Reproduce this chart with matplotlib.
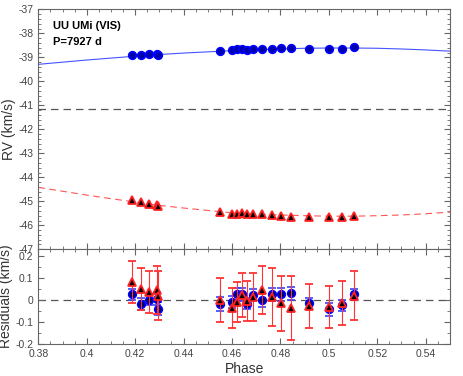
import matplotlib

matplotlib.use("Agg")
import matplotlib.pyplot as plt
from matplotlib.ticker import MultipleLocator, FuncFormatter

plt.rcParams["font.family"] = ["Liberation Sans", "DejaVu Sans"]

# observed phases (19 spectra)
phase = [0.4185, 0.4225, 0.4258, 0.4292, 0.4296, 0.4552, 0.4601, 0.4620,
         0.4640, 0.4660, 0.4685, 0.4722, 0.4765, 0.4802, 0.4843, 0.4920,
         0.5002, 0.5056, 0.5105]
rv_a = [-38.90, -38.92, -38.88, -38.85, -38.89, -38.74, -38.70, -38.67,
        -38.65, -38.70, -38.64, -38.65, -38.63, -38.61, -38.60, -38.63,
        -38.65, -38.64, -38.58]
rv_b = [-44.96, -45.04, -45.11, -45.15, -45.19, -45.46, -45.52, -45.52,
        -45.50, -45.53, -45.53, -45.52, -45.58, -45.61, -45.64, -45.64,
        -45.65, -45.64, -45.60]
res_a = [0.027, -0.018, 0.0, 0.005, -0.04, -0.018, -0.008, 0.026, 0.026,
         -0.018, 0.023, 0.0, 0.026, 0.026, 0.03, -0.015, -0.042, -0.023, 0.026]
err_a = [0.025, 0.028, 0.025, 0.03, 0.03, 0.03, 0.028, 0.03, 0.03, 0.025,
         0.028, 0.03, 0.03, 0.03, 0.03, 0.025, 0.03, 0.025, 0.025]
res_b = [0.08, 0.05, 0.035, 0.045, 0.02, 0.0, -0.035, -0.008, 0.023, -0.006,
         0.013, 0.045, 0.013, -0.015, -0.035, -0.027, -0.03, -0.015, 0.02]
err_b = [0.095, 0.095, 0.095, 0.11, 0.11, 0.1, 0.09, 0.09, 0.1, 0.09, 0.108,
         0.11, 0.131, 0.125, 0.145, 0.1, 0.095, 0.1, 0.113]

# orbital model curves (sampled from the figure)
model_phase = [0.38, 0.39, 0.40, 0.41, 0.42, 0.43, 0.44, 0.45, 0.46, 0.47,
               0.48, 0.49, 0.50, 0.51, 0.52, 0.53, 0.54, 0.55]
model_a = [-39.29, -39.20, -39.11, -39.03, -38.95, -38.88, -38.82, -38.77,
           -38.72, -38.68, -38.65, -38.62, -38.61, -38.61, -38.62, -38.65,
           -38.69, -38.74]
model_b = [-44.42, -44.58, -44.74, -44.89, -45.03, -45.17, -45.28, -45.38,
           -45.48, -45.53, -45.57, -45.60, -45.62, -45.62, -45.60, -45.57,
           -45.52, -45.45]
gamma = -41.17

SPINE = "#666666"
TICK_C = "#444444"

fig = plt.figure(figsize=(4.63, 3.76), dpi=100)
ax1 = fig.add_axes([0.0827, 0.337, 0.889, 0.638])
ax2 = fig.add_axes([0.0827, 0.085, 0.889, 0.252], sharex=ax1)

fmt = FuncFormatter(lambda v, p: f"{v:g}")

for ax in (ax1, ax2):
    ax.tick_params(which="both", direction="in", top=True, right=True,
                   colors=SPINE, labelcolor=TICK_C, labelsize=7.5)
    ax.tick_params(which="major", length=4)
    ax.tick_params(which="minor", length=2)
    for s in ax.spines.values():
        s.set_color(SPINE)
    ax.xaxis.set_major_locator(MultipleLocator(0.02))
    ax.xaxis.set_minor_locator(MultipleLocator(0.005))
    ax.xaxis.set_major_formatter(fmt)
    ax.yaxis.set_major_formatter(fmt)

# top panel
ax1.plot(model_phase, model_a, color="#4455ff", lw=0.8, zorder=2)
ax1.plot(model_phase, model_b, color="#ff5555", lw=0.8, dashes=(6, 4), zorder=2)
ax1.axhline(gamma, color="#555555", lw=0.9, dashes=(6, 4), zorder=1)
ax1.plot(phase, rv_a, "o", ms=5.5, mfc="#0000aa", mec="#0000ff", mew=1.2,
         ls="none", zorder=3)
ax1.plot(phase, rv_b, "^", ms=5.5, mfc="black", mec="#ff2222", mew=1.3,
         ls="none", zorder=4)
ax1.set_xlim(0.38, 0.55)
ax1.set_ylim(-47, -37)
ax1.yaxis.set_major_locator(MultipleLocator(1))
ax1.yaxis.set_minor_locator(MultipleLocator(0.2))
ax1.tick_params(labelbottom=False)
ax1.set_ylabel("RV (km/s)", fontsize=10, color="#333333", labelpad=2)
ax1.text(0.035, 0.95, "UU UMi (VIS)", transform=ax1.transAxes, fontsize=8,
         weight="bold", va="top")
ax1.text(0.035, 0.885, "P=7927 d", transform=ax1.transAxes, fontsize=8,
         weight="bold", va="top")

# residuals
ax2.axhline(0, color="#555555", lw=0.9, dashes=(6, 4), zorder=1)
ax2.errorbar(phase, res_a, yerr=err_a, fmt="o", ms=5.5, mfc="#000066",
             mec="#0000ff", mew=1.2, ecolor="#3344ff", elinewidth=0.8,
             capsize=3, capthick=0.8, zorder=3)
ax2.errorbar(phase, res_b, yerr=err_b, fmt="^", ms=5.5, mfc="black",
             mec="#ff2222", mew=1.3, ecolor="#ff3333", elinewidth=0.8,
             capsize=3, capthick=0.8, zorder=4)
ax2.set_ylim(-0.2, 0.23)
ax2.yaxis.set_major_locator(MultipleLocator(0.1))
ax2.yaxis.set_minor_locator(MultipleLocator(0.05))
ax2.set_xlabel("Phase", fontsize=10, color="#333333", labelpad=2)
ax2.set_ylabel("Residuals (km/s)", fontsize=10, color="#333333", labelpad=2)

fig.savefig("out.png", dpi=100)
